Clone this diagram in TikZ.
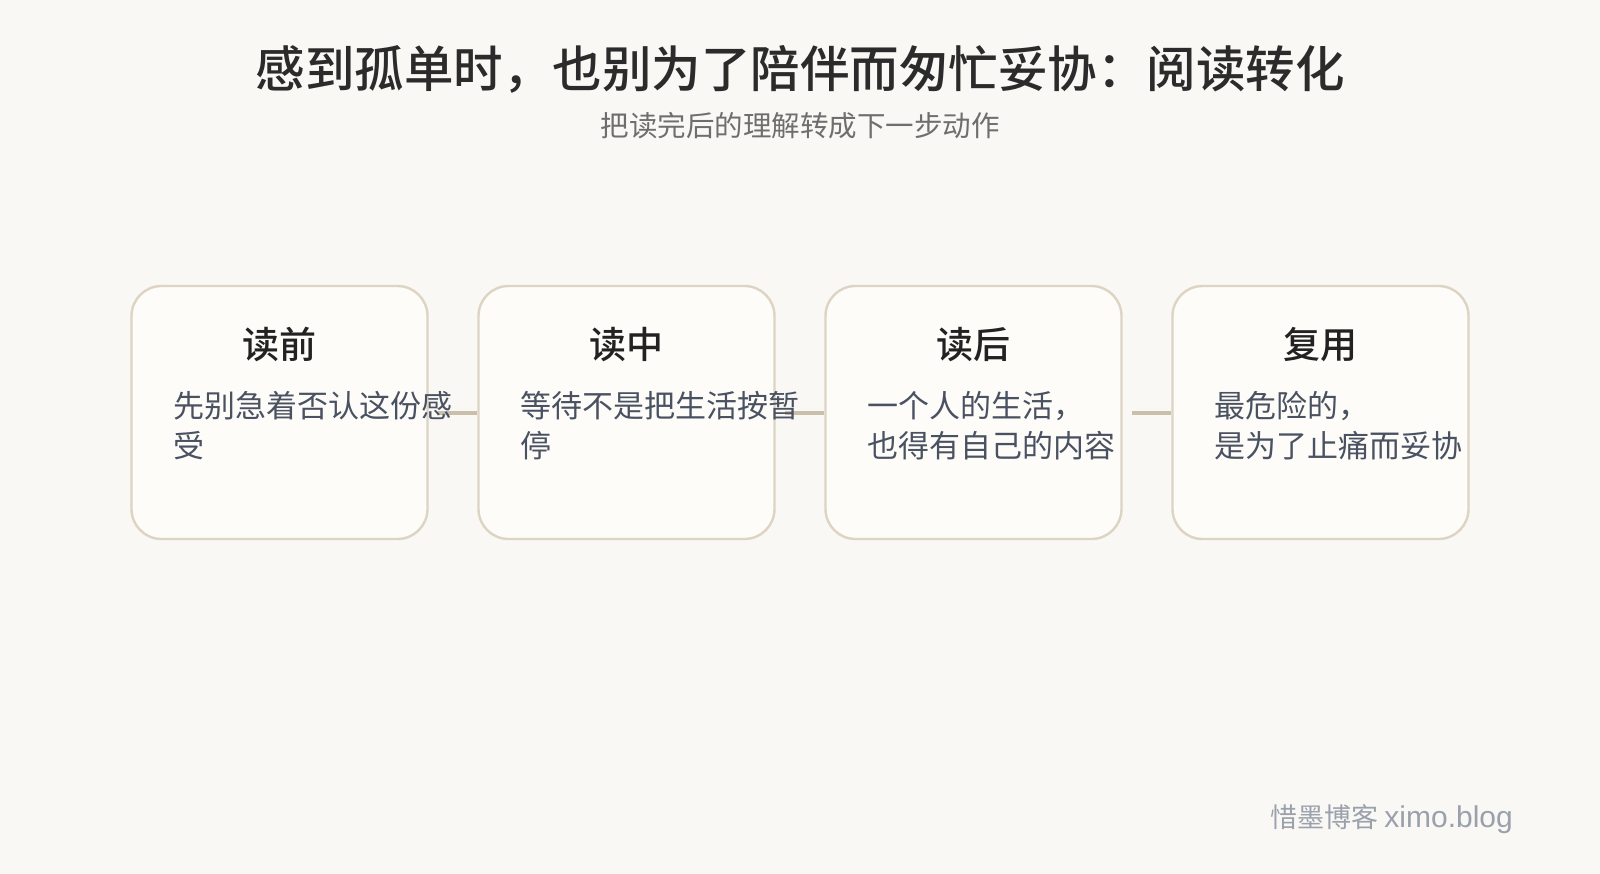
\documentclass[tikz,border=0pt]{standalone}
\usepackage{fontspec}
\setmainfont{Noto Sans CJK SC}[BoldFont={Noto Sans CJK SC Medium}]
\newfontfamily\latinsans{Liberation Sans}
\usepackage{tikz}
\usetikzlibrary{positioning}
\definecolor{bgpaper}{HTML}{F9F8F4}
\definecolor{cardfill}{HTML}{FDFCF9}
\definecolor{cardline}{HTML}{DDD4C3}
\definecolor{linkline}{HTML}{C9BFAB}
\definecolor{titletext}{HTML}{2B2B2B}
\definecolor{subtext}{HTML}{6E6E6E}
\definecolor{headtext}{HTML}{222222}
\definecolor{bodytext}{HTML}{4A5262}
\definecolor{marktext}{HTML}{9AA1AD}
\tikzstyle{card} = [rectangle, rounded corners=30pt, minimum width=296pt, minimum height=253pt, draw=cardline, line width=2.4pt, fill=cardfill]
\tikzstyle{title} = [inner sep=0pt, font=\bfseries\fontsize{49.5}{60}\selectfont, text=titletext]
\tikzstyle{subtitle} = [inner sep=0pt, font=\fontsize{28.5}{34}\selectfont, text=subtext]
\tikzstyle{head} = [inner sep=0pt, font=\bfseries\fontsize{37}{40}\selectfont, text=headtext]
\tikzstyle{body} = [inner sep=0pt, anchor=base west, align=left, font=\fontsize{31}{40}\selectfont, text=bodytext]
\tikzstyle{link} = [line width=4pt, color=linkline]
\tikzstyle{watermark} = [inner sep=0pt, anchor=east, font=\fontsize{27}{30}\selectfont, text=marktext]

\begin{document}
\begin{tikzpicture}[x=1pt, y=-1pt, node distance=347pt]
		\fill [bgpaper] (0,0) rectangle (1600,874);
		\useasboundingbox (0,0) rectangle (1600,874);
		\node (title) [title] at (800,69) {感到孤单时，也别为了陪伴而匆忙妥协：阅读转化};
		\node (subtitle) [subtitle] at (800,126) {把读完后的理解转成下一步动作};
		\node (before) [card] at (279.5,412.5) {};
		\node (during) [card, right of=before] {};
		\node (after) [card, right of=during] {};
		\node (reuse) [card, right of=after] {};
		\draw [link] ([xshift=9pt]before.east) -- (during.west);
		\draw [link] ([xshift=9pt]during.east) -- (after.west);
		\draw [link] ([xshift=9pt]after.east) -- (reuse.west);
		\node (before_head) [head] at ([yshift=-60pt]before.north) {读前};
		\node (during_head) [head] at ([yshift=-60pt]during.north) {读中};
		\node (after_head) [head] at ([yshift=-60pt]after.north) {读后};
		\node (reuse_head) [head] at ([yshift=-60pt]reuse.north) {复用};
		\node (before_text) [body] at ([xshift=43pt, yshift=-173pt]before.north west) {先别急着否认这份感\\受};
		\node (during_text) [body] at ([xshift=43pt, yshift=-173pt]during.north west) {等待不是把生活按暂\\停};
		\node (after_text) [body] at ([xshift=43pt, yshift=-173pt]after.north west) {一个人的生活，\\也得有自己的内容};
		\node (reuse_text) [body] at ([xshift=43pt, yshift=-173pt]reuse.north west) {最危险的，\\是为了止痛而妥协};
		\node (credit) [watermark] at (1513,819) {惜墨博客 {\latinsans\fontsize{30}{30}\selectfont ximo.blog}};
\end{tikzpicture}
\end{document}
